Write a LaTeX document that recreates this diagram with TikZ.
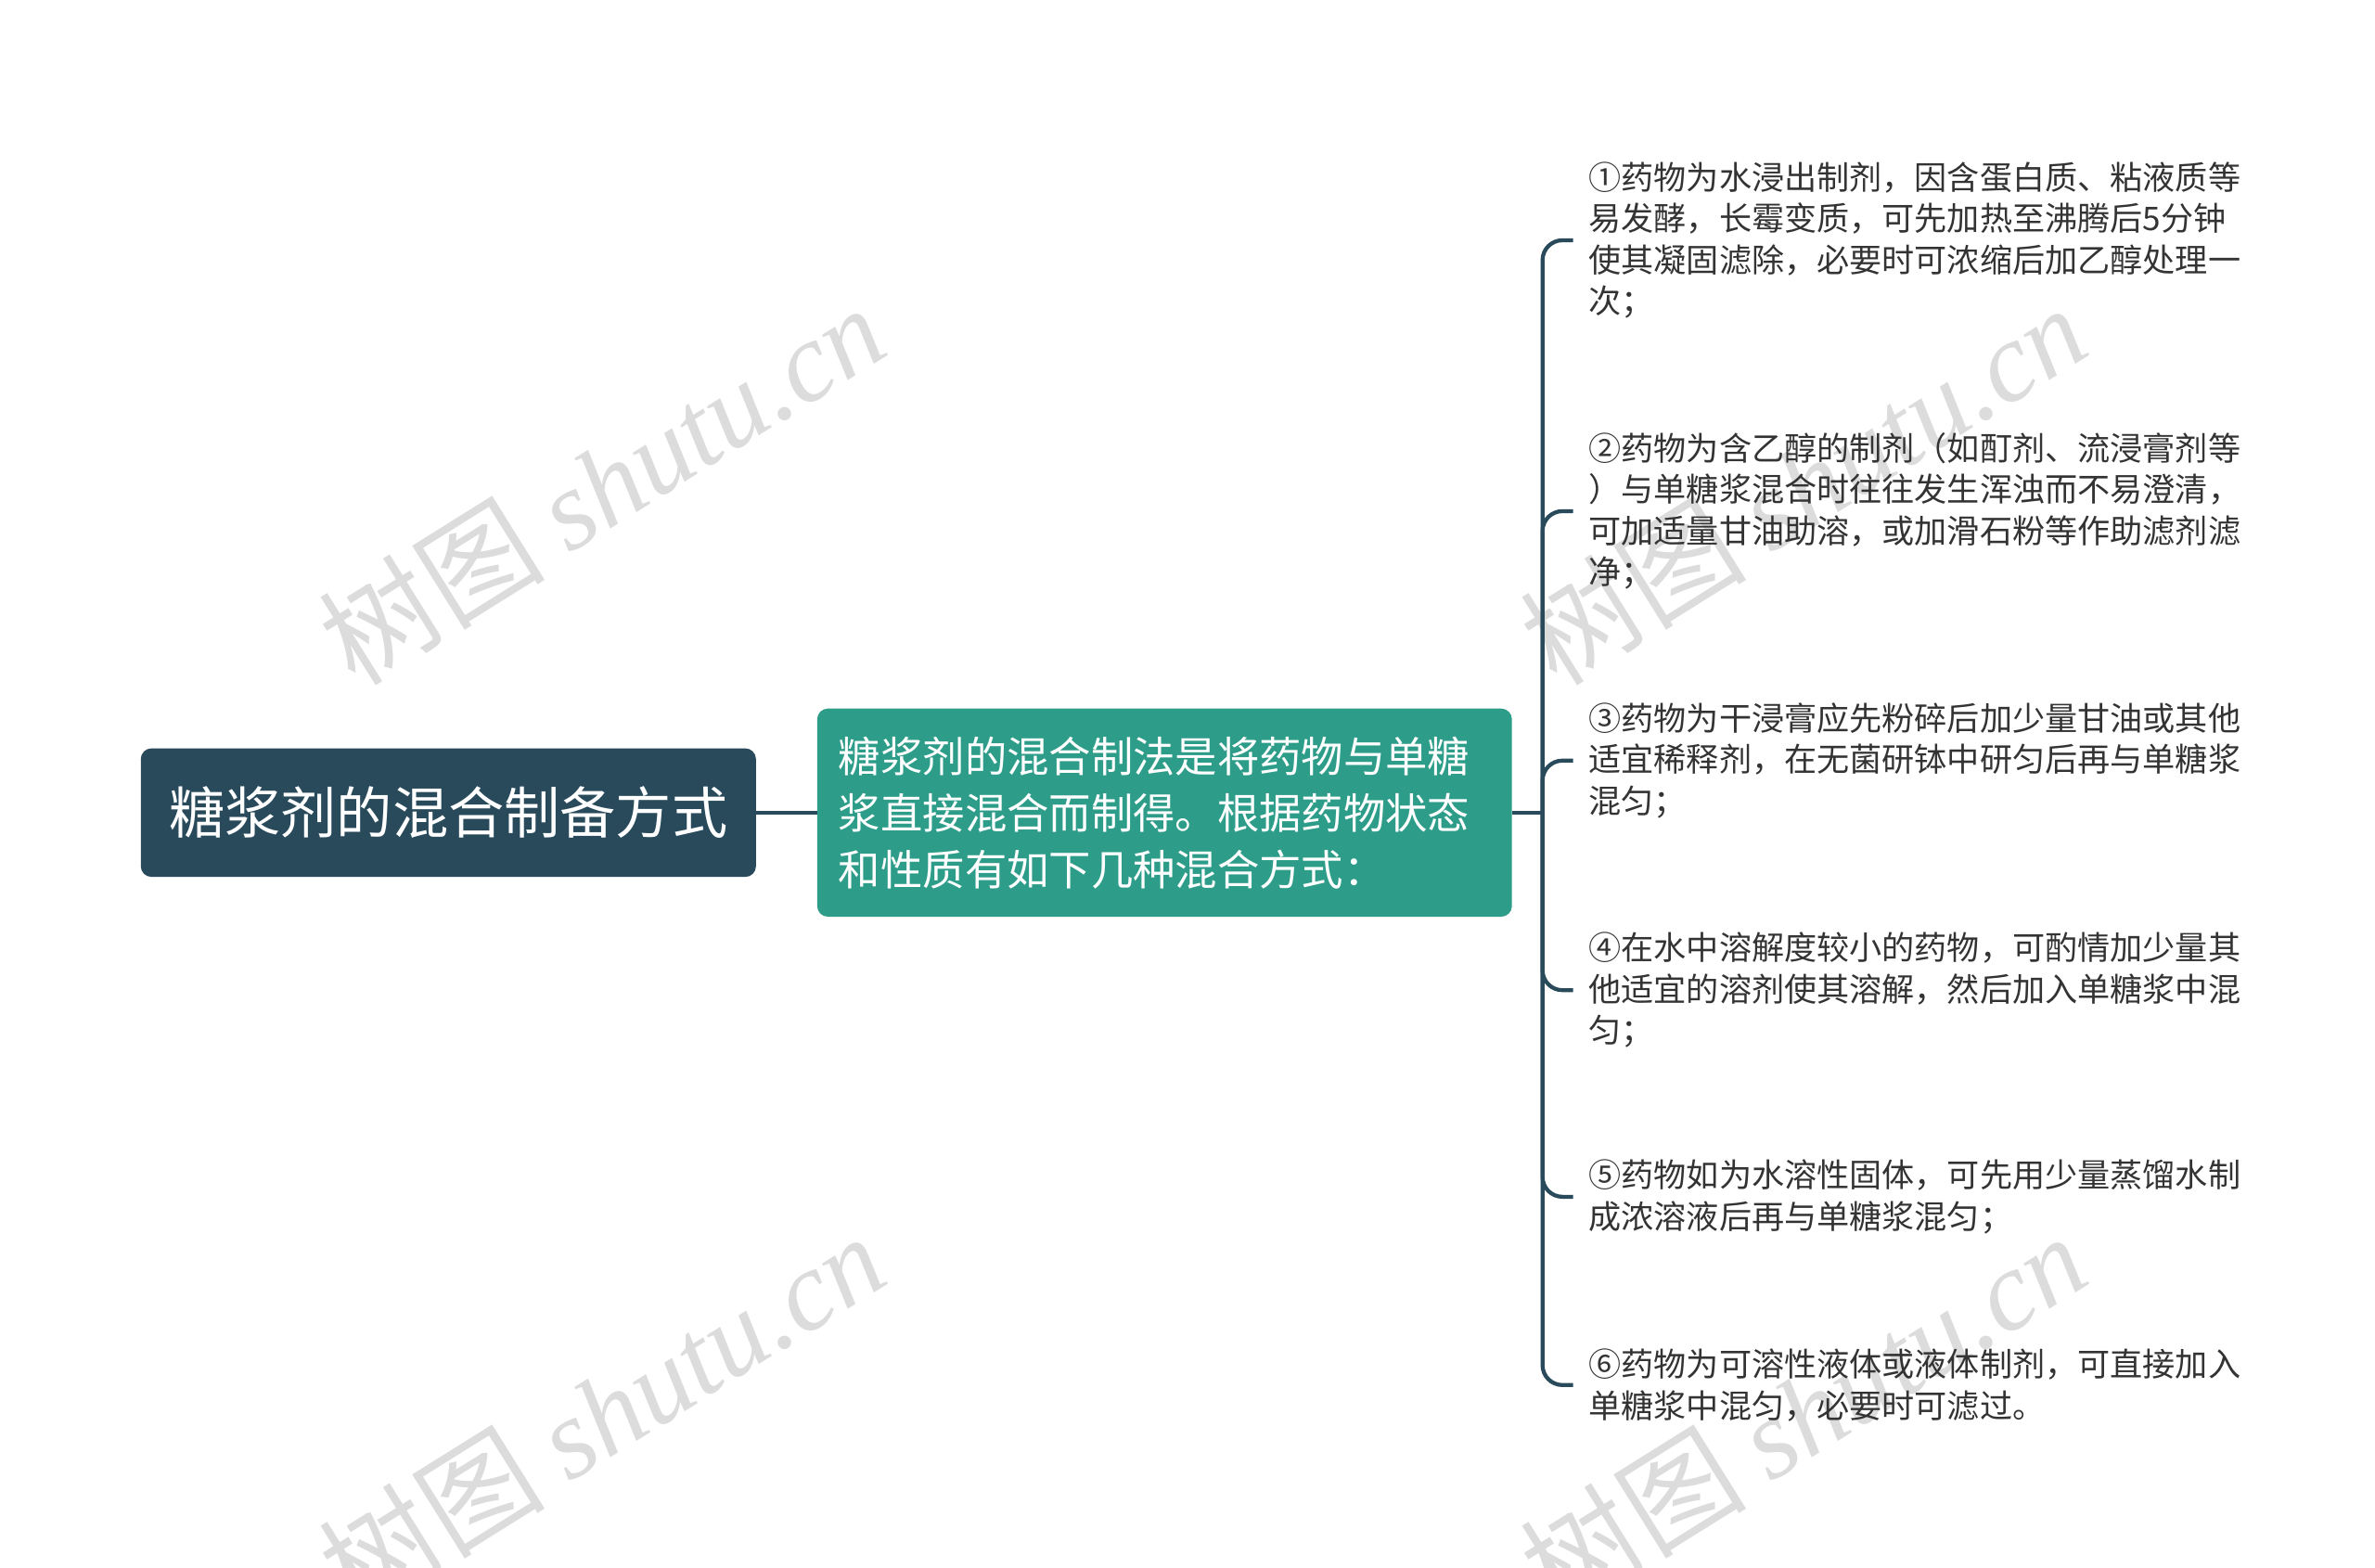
\documentclass[tikz,border=0pt]{standalone}
\usepackage{fontspec}
\setmainfont{Noto Sans CJK SC}
\newfontfamily\wmlatin{Liberation Serif}
\definecolor{rootc}{HTML}{284A5A}
\definecolor{midc}{HTML}{2D9D8A}
\definecolor{linec}{HTML}{284A5A}
\definecolor{leaftxt}{HTML}{333333}
\definecolor{wmc}{HTML}{DCDCDC}
\begin{document}
\begin{tikzpicture}[x=1pt,y=-1pt,
  rootbox/.style={fill=rootc, rounded corners=7pt, text=white, minimum width=402pt, minimum height=84pt, inner sep=0pt, font=\fontsize{36.5}{40}\selectfont},
  midbox/.style={fill=midc, rounded corners=7pt, text=white, minimum width=454pt, minimum height=136pt, inner xsep=14pt, inner ysep=0pt, text width=426pt, align=left, font=\fontsize{27.5}{37}\selectfont},
  leafbox/.style={anchor=west, inner sep=0pt, align=left, text=leaftxt, font=\fontsize{21.3}{27}\selectfont},
  conn/.style={draw=linec, line width=2.6pt},
  branch/.style={conn, rounded corners=13pt},
  wm/.style={text=wmc, rotate=32, inner sep=0pt, font=\fontsize{74}{74}\selectfont}
]
\useasboundingbox (0,0) rectangle (1552,1024);
% watermarks
\node[wm] (wm1) at (393,316) {树图 {\wmlatin\itshape shutu.cn}};
\node[wm] (wm2) at (1178,316) {树图 {\wmlatin\itshape shutu.cn}};
\node[wm] (wm3) at (393,923) {树图 {\wmlatin\itshape shutu.cn}};
\node[wm] (wm4) at (1178,923) {树图 {\wmlatin\itshape shutu.cn}};

\node[rootbox] (root) at (293,531) {糖浆剂的混合制备方式};
\node[midbox] (mid) at (761,531) {糖浆剂的混合制法是将药物与单糖\\浆直接混合而制得。根据药物状态\\和性质有如下几种混合方式：};
\coordinate (hub) at (1008,531);

\node[leafbox] (l1) at (1038,157) {①药物为水浸出制剂，因含蛋白质、粘液质等\\易发酵，长霉变质，可先加热至沸腾后5分钟\\使其凝固滤除，必要时可浓缩后加乙醇处理一\\次；};
\node[leafbox] (l2) at (1038,334) {②药物为含乙醇的制剂（如酊剂、流浸膏剂等\\）与单糖浆混合时往往发生浑浊而不易澄清，\\可加适量甘油助溶，或加滑石粉等作助滤剂滤\\净；};
\node[leafbox] (l3) at (1038,497) {③药物为干浸膏应先粉碎后加少量甘油或其他\\适宜稀释剂，在无菌研钵中研匀后再与单糖浆\\混匀；};
\node[leafbox] (l4) at (1038,647) {④在水中溶解度较小的药物，可酌情加少量其\\他适宜的溶剂使其溶解，然后加入单糖浆中混\\匀；};
\node[leafbox] (l5) at (1038,782) {⑤药物如为水溶性固体，可先用少量蒸馏水制\\成浓溶液后再与单糖浆混匀；};
\node[leafbox] (l6) at (1038,905) {⑥药物为可溶性液体或液体制剂，可直接加入\\单糖浆中混匀，必要时可滤过。};

\draw[conn] (root.east) -- (mid.west);
\draw[conn] (mid.east) -- (hub);
\foreach \n in {l1,l2,l3,l4,l5,l6}
  \draw[branch] (hub) |- ([xshift=-10pt]\n.west);
\end{tikzpicture}
\end{document}
